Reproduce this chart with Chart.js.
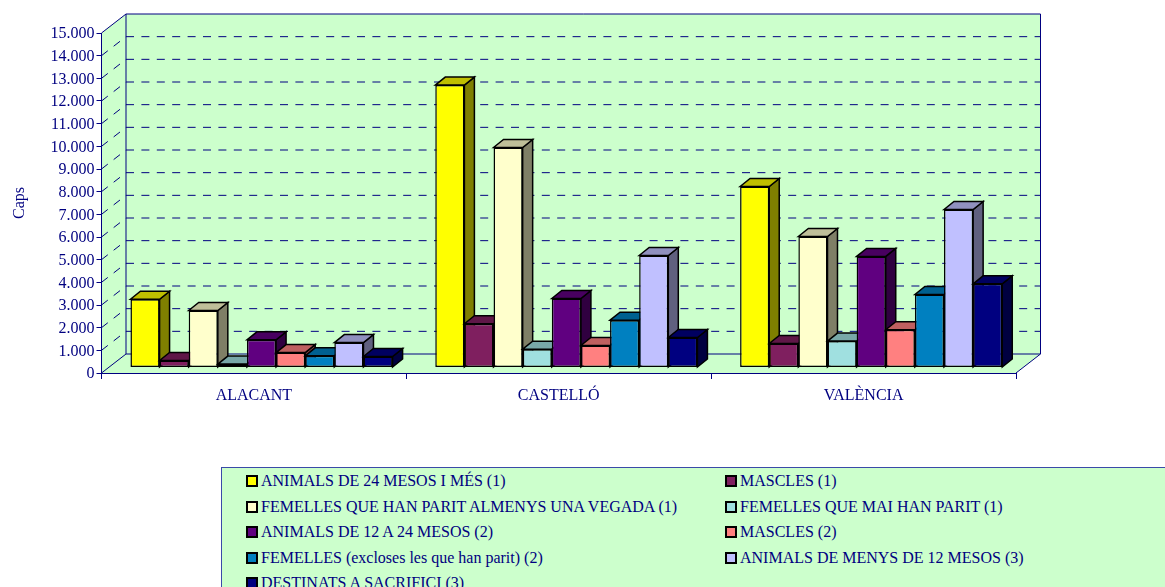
<!DOCTYPE html>
<html>
<head>
<meta charset="utf-8">
<title>Caps</title>
<script src="https://cdn.jsdelivr.net/npm/chart.js@4/dist/chart.umd.min.js"></script>
<style>
html, body { margin: 0; padding: 0; background: #fff; overflow: hidden; width: 1165px; height: 587px; }
#weatherChart { display: block; position: absolute; left: 0; top: 0; }
#legend { position: absolute; left: 221px; top: 467px; width: 1000px; height: 150px; box-sizing: border-box;
  background: #CCFFCC; border: 1px solid #3a4aa8; font: 16px "Liberation Serif", serif; color: #000080; }
.item { position: absolute; white-space: nowrap; height: 18px; line-height: 18px; padding-left: 39px; }
.item i { position: absolute; left: 24px; top: 3px; width: 8px; height: 8px; border: 2px solid #000; }
</style>
</head>
<body>
<canvas id="weatherChart" width="1165" height="587"></canvas>
<div id="legend"></div>
<script>
let categories = ["ALACANT", "CASTELLÓ", "VALÈNCIA"];
let tickLabels = ["0", "1.000", "2.000", "3.000", "4.000", "5.000", "6.000", "7.000", "8.000", "9.000", "10.000", "11.000", "12.000", "13.000", "14.000", "15.000"];

let seriesNames = [
"ANIMALS DE 24 MESOS I MÉS (1)",
"MASCLES (1)",
"FEMELLES QUE HAN PARIT ALMENYS UNA VEGADA (1)",
"FEMELLES QUE MAI HAN PARIT (1)",
"ANIMALS DE 12 A 24 MESOS (2)",
"MASCLES (2)",
"FEMELLES (excloses les que han parit) (2)",
"ANIMALS DE MENYS DE 12 MESOS (3)",
"DESTINATS A SACRIFICI (3)"
];
let seriesColors = ["#FFFF00", "#7F1F5F", "#FFFFCC", "#A0E0E0", "#600080", "#FF8080", "#0080C0", "#C0C0FF", "#000080"];

let animals24 = [3010, 12460, 7985];
let mascles1 = [310, 1930, 1060];
let femellesParit = [2515, 9705, 5780];
let femellesMai = [150, 810, 1165];
let animals12 = [1220, 3045, 4900];
let mascles2 = [660, 970, 1665];
let femelles2 = [515, 2090, 3220];
let animalsMenys = [1100, 4940, 6970];
let destinats = [485, 1325, 3690];
let seriesValues = [animals24, mascles1, femellesParit, femellesMai, animals12, mascles2, femelles2, animalsMenys, destinats];

// how the flat chart is turned into the fake 3D box
let wallX = 24.5, wallY = -19;
let barShiftX = 7.6, barShiftY = -5.5;
let barDepthX = 10, barDepthY = -8;
let navy = "#000080";

function face(ctx, pts, color, shade) {
ctx.beginPath();
pts.forEach((p, i) => i ? ctx.lineTo(p[0], p[1]) : ctx.moveTo(p[0], p[1]));
ctx.closePath();
ctx.fillStyle = color;
ctx.fill();
ctx.fillStyle = "rgba(0,0,0," + shade + ")";
ctx.fill();
ctx.strokeStyle = "#000";
ctx.lineWidth = 1.5;
ctx.stroke();
}

let box3d = {
id: "box3d",
beforeDraw(chart) {
let ctx = chart.ctx, a = chart.chartArea, y = chart.scales.y;
let l = a.left, r = a.right, z = y.getPixelForValue(0), t = y.getPixelForValue(15000);
ctx.save();
ctx.fillStyle = "#CCFFCC";
ctx.beginPath();
ctx.moveTo(l, z); ctx.lineTo(l, t); ctx.lineTo(l + wallX, t + wallY);
ctx.lineTo(r + wallX, t + wallY); ctx.lineTo(r + wallX, z + wallY); ctx.lineTo(r, z);
ctx.closePath();
ctx.fill();

ctx.strokeStyle = navy;
ctx.lineWidth = 1;

// dashed lines on both walls
ctx.setLineDash([8, 7.4]);
y.ticks.forEach(tk => {
if (tk.value === 0 || tk.value === 15000) return;
let p = y.getPixelForValue(tk.value);
ctx.beginPath();
ctx.moveTo(l, p); ctx.lineTo(l + wallX, p + wallY);
ctx.stroke();
ctx.beginPath();
ctx.lineDashOffset = -15.4;
ctx.moveTo(l + wallX, p + wallY); ctx.lineTo(r + wallX, p + wallY);
ctx.stroke();
ctx.lineDashOffset = 0;
});
ctx.setLineDash([]);

// box edges
ctx.beginPath();
ctx.moveTo(l, t); ctx.lineTo(l + wallX, t + wallY); ctx.lineTo(r + wallX, t + wallY);
ctx.lineTo(r + wallX, z + wallY); ctx.lineTo(l + wallX, z + wallY); ctx.lineTo(l + wallX, t + wallY);
ctx.moveTo(l, z); ctx.lineTo(l + wallX, z + wallY);
ctx.moveTo(r, z); ctx.lineTo(r + wallX, z + wallY);
ctx.stroke();
ctx.restore();
},
// chart.js paints datasets last to first, here the later bars have to cover the earlier ones
beforeDatasetDraw() {
return false;
},
afterDatasetsDraw(chart) {
let ctx = chart.ctx;
chart.data.datasets.forEach((ds, i) => {
let meta = chart.getDatasetMeta(i);
ctx.save();
ctx.translate(barShiftX, barShiftY);
meta.data.forEach(bar => {
let p = bar.getProps(["x", "y", "base", "width"], true);
let x0 = p.x - p.width / 2, x1 = p.x + p.width / 2;
face(ctx, [[x1, p.y], [x1 + barDepthX, p.y + barDepthY], [x1 + barDepthX, p.base + barDepthY], [x1, p.base]], ds.backgroundColor, 0.5);
face(ctx, [[x0, p.y], [x0 + barDepthX, p.y + barDepthY], [x1 + barDepthX, p.y + barDepthY], [x1, p.y]], ds.backgroundColor, 0.25);
});
meta.controller.draw();
ctx.restore();
});
}
};

let chart = new Chart(document.getElementById("weatherChart").getContext("2d"), {
type: "bar",
data: {
labels: categories,
datasets: seriesNames.map((name, i) => ({
label: name,
data: seriesValues[i],
backgroundColor: seriesColors[i],
borderColor: "#000",
borderWidth: 1.5,
borderSkipped: false,
clip: false
}))
},
plugins: [box3d],
options: {
responsive: false,
animation: false,
events: [],
layout: { padding: { left: 0, right: 149, top: 33, bottom: 0 } },
categoryPercentage: 0.86,
barPercentage: 1,
plugins: { legend: { display: false }, tooltip: { enabled: false } },
scales: {
x: {
grid: { drawOnChartArea: false, tickLength: 6, color: navy, offset: true },
border: { color: navy },
ticks: { color: navy, maxRotation: 0, padding: 7, font: { family: "Liberation Serif", size: 16 } },
afterFit(s) { s.height = 214; s.paddingLeft = 0; s.paddingRight = 0; }
},
y: {
min: 0,
max: 15000,
grid: { drawOnChartArea: false, tickLength: 5, color: navy },
border: { color: navy },
ticks: {
stepSize: 1000,
color: navy,
padding: 2,
labelOffset: 1,
font: { family: "Liberation Serif", size: 16 },
callback: (v, i) => tickLabels[i]
},
title: { display: true, text: "Caps", color: navy, padding: { top: 10, bottom: 0 }, font: { family: "Liberation Serif", size: 16 } },
afterFit(s) { s.width = 101.5; s.paddingTop = 0; s.paddingBottom = 0; }
}
}
}
});

// legend box, two columns, same as the original sheet
let legend = document.getElementById("legend");
seriesNames.forEach((name, i) => {
let item = document.createElement("div");
item.className = "item";
item.style.left = (i % 2 ? 479 : 0) + "px";
item.style.top = (4 + Math.floor(i / 2) * 25.6) + "px";
item.innerHTML = '<i style="background:' + seriesColors[i] + '"></i>' + name;
legend.appendChild(item);
});
</script>
</body>
</html>
